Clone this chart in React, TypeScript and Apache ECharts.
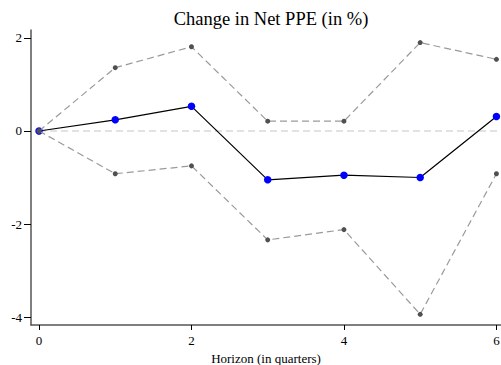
import React, { useEffect, useRef } from "react";
import * as echarts from "echarts";

const horizons = [0, 1, 2, 3, 4, 5, 6];
const estimate = [0, 0.24, 0.53, -1.05, -0.95, -1.0, 0.31];
const upperBand = [0, 1.36, 1.81, 0.21, 0.21, 1.9, 1.54];
const lowerBand = [0, -0.92, -0.75, -2.34, -2.12, -3.94, -0.92];
const yTicks = [-4, -2, 0, 2];
const xTicks = [0, 2, 4, 6];

const FONT = "'Liberation Serif', 'DejaVu Serif', serif";

export default function App() {
  const ref = useRef<HTMLDivElement>(null);

  useEffect(() => {
    if (!ref.current) return;
    const chart = echarts.init(ref.current, undefined, { renderer: "svg" });
    const pairs = (ys: number[]) => horizons.map((x, i) => [x, ys[i]]);

    chart.setOption({
      animation: false,
      title: {
        text: "Change in Net PPE (in %)",
        left: 266,
        top: 4,
        textAlign: "center",
        textStyle: { fontFamily: FONT, fontSize: 18.5, fontWeight: "normal", color: "#000" },
      },
      grid: { left: 31, right: 0, top: 30, bottom: 40, outerBoundsMode: "none", containLabel: false },
      xAxis: {
        type: "value",
        min: -0.105,
        max: 6.06,
        name: "Horizon (in quarters)",
        nameLocation: "middle",
        nameGap: 23,
        nameTextStyle: { fontFamily: FONT, fontSize: 13, color: "#000" },
        axisLine: { onZero: false, lineStyle: { color: "#555", width: 1.5 } },
        axisTick: {
          show: true,
          length: 5,
          lineStyle: { color: "#000" },
          customValues: xTicks,
        },
        axisLabel: {
          fontFamily: FONT,
          fontSize: 13,
          color: "#000",
          margin: 9,
          customValues: xTicks,
          formatter: (v: number) => String(v),
        },
        splitLine: { show: false },
      },
      yAxis: {
        type: "value",
        min: -4.17,
        max: 2.17,
        axisLine: { show: true, onZero: false, lineStyle: { color: "#555", width: 1.5 } },
        axisTick: {
          show: true,
          length: 7,
          lineStyle: { color: "#000" },
          customValues: yTicks,
        },
        axisLabel: {
          fontFamily: FONT,
          fontSize: 13,
          color: "#000",
          margin: 9,
          customValues: yTicks,
          formatter: (v: number) => String(v),
        },
        splitLine: { show: false },
      },
      series: [
        {
          type: "line",
          data: [[0, 0], [6.06, 0]],
          symbol: "none",
          lineStyle: { color: "#d9d9d9", width: 1.5, type: [7, 4] },
          silent: true,
          z: 1,
        },
        {
          type: "line",
          data: pairs(estimate),
          symbol: "circle",
          symbolSize: 7.5,
          itemStyle: { color: "#0000ff" },
          lineStyle: { color: "#000", width: 1.2 },
          z: 2,
        },
        {
          type: "line",
          data: pairs(upperBand),
          symbol: "circle",
          symbolSize: 5,
          itemStyle: { color: "#505050" },
          lineStyle: { color: "#9a9a9a", width: 1.2, type: [7, 4] },
          z: 3,
        },
        {
          type: "line",
          data: pairs(lowerBand),
          symbol: "circle",
          symbolSize: 5,
          itemStyle: { color: "#505050" },
          lineStyle: { color: "#9a9a9a", width: 1.2, type: [7, 4] },
          z: 3,
        },
      ],
    });

    return () => chart.dispose();
  }, []);

  return <div ref={ref} style={{ width: 501, height: 365, position: "absolute", left: 0, top: 0 }} />;
}
